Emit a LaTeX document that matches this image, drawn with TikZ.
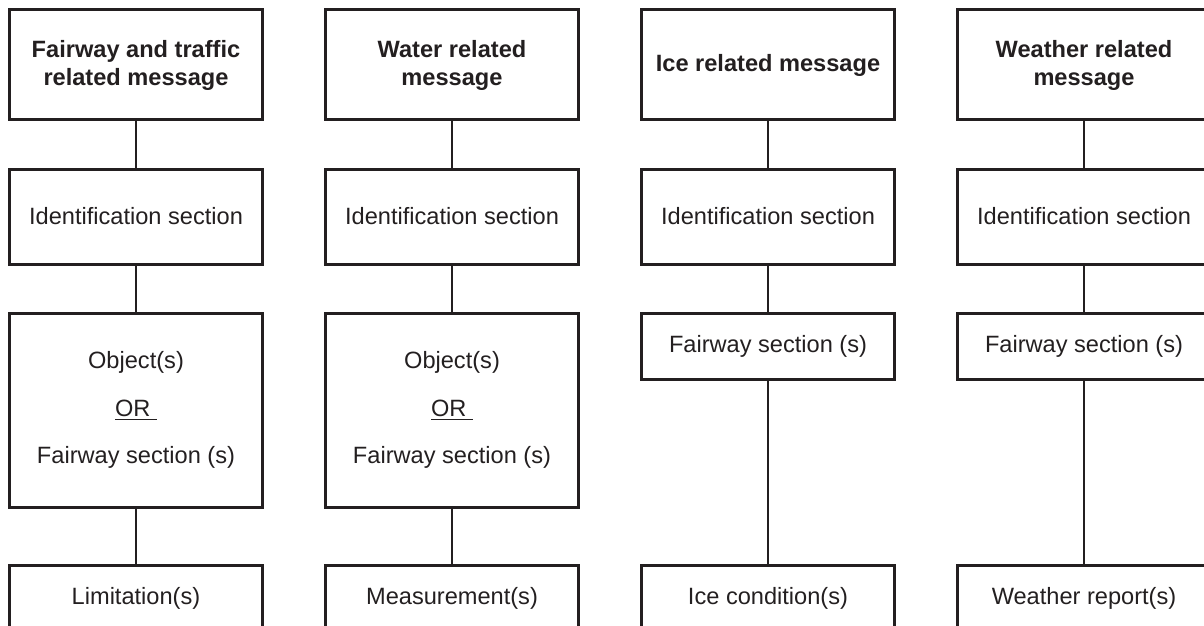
\documentclass[tikz,border=0pt]{standalone}
\usepackage{fontspec}
\setmainfont{Liberation Sans}
\definecolor{ink}{RGB}{35,31,32}

\begin{document}
\begin{tikzpicture}[x=0.5pt, y=-0.5pt, line width=1.4pt, draw=ink,
	box/.style={draw=ink, line width=1.5pt, text=ink, minimum width=126.5pt, align=center, inner sep=2pt, font=\fontsize{11.8}{14}\selectfont},
	headbox/.style={box, minimum height=55pt, font=\fontsize{11.8}{14}\selectfont\bfseries},
	idbox/.style={box, minimum height=47.5pt},
	objbox/.style={box, minimum height=97pt, font=\fontsize{11.8}{23.75}\selectfont},
	smallbox/.style={box, minimum height=33pt}]
	  			\clip (0,0) rectangle (1204,626);

	  			% fairway and traffic
	  			\node[headbox] (fair-head) at (136,65) {Fairway and traffic\\related message};
	  			\node[idbox] (fair-id) at (136,216.5) {Identification section};
	  			\node[objbox] (fair-obj) at (136,410) {Object(s)\\\underline{OR\ }\\Fairway section (s)};
	  			\node[smallbox] (fair-lim) at (136,598) {Limitation(s)};

	  			% water
	  			\node[headbox] (water-head) at (452,65) {Water related\\message};
	  			\node[idbox] (water-id) at (452,216.5) {Identification section};
	  			\node[objbox] (water-obj) at (452,410) {Object(s)\\\underline{OR\ }\\Fairway section (s)};
	  			\node[smallbox] (water-meas) at (452,598) {Measurement(s)};

	  			% ice
	  			\node[headbox] (ice-head) at (768,65) {Ice related message};
	  			\node[idbox] (ice-id) at (768,216.5) {Identification section};
	  			\node[smallbox] (ice-fw) at (768,346) {Fairway section (s)};
	  			\node[smallbox] (ice-cond) at (768,598) {Ice condition(s)};

	  			% weather
	  			\node[headbox] (weather-head) at (1084,65) {Weather related\\message};
	  			\node[idbox] (weather-id) at (1084,216.5) {Identification section};
	  			\node[smallbox] (weather-fw) at (1084,346) {Fairway section (s)};
	  			\node[smallbox] (weather-rep) at (1084,598) {Weather report(s)};

	  			\draw (fair-head) -- (fair-id) -- (fair-obj) -- (fair-lim);
	  			\draw (water-head) -- (water-id) -- (water-obj) -- (water-meas);
	  			\draw (ice-head) -- (ice-id) -- (ice-fw) -- (ice-cond);
	  			\draw (weather-head) -- (weather-id) -- (weather-fw) -- (weather-rep);
	  		\end{tikzpicture}
\end{document}
